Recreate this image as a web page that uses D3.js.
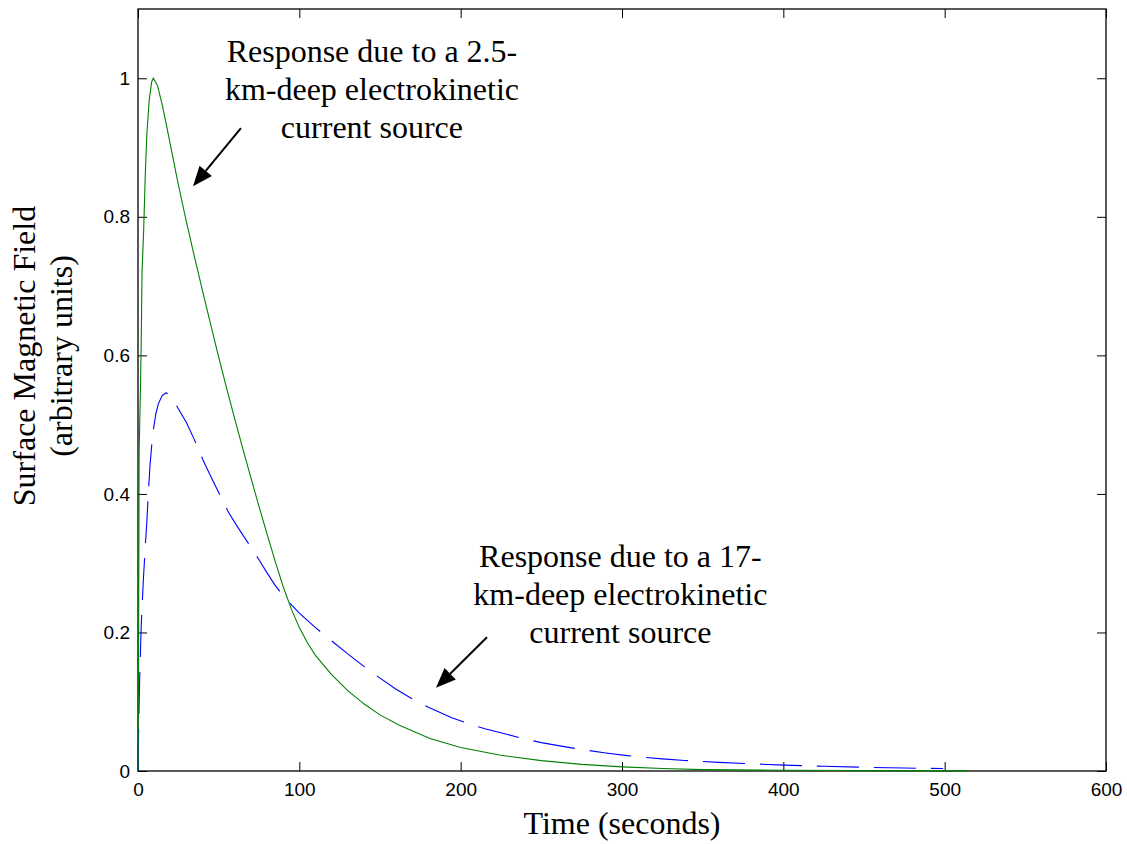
<!DOCTYPE html>
<html>
<head>
<meta charset="utf-8">
<script src="https://cdn.jsdelivr.net/npm/d3@7"></script>
<style>
  body { margin: 0; background: #fff; }
  .tick text { font-family: "Liberation Sans", Arial, sans-serif; font-size: 19px; fill: #000; }
  .tick line { stroke: #000; }
  .title { font-family: "Liberation Serif", "Times New Roman", serif; font-size: 32px; fill: #000; }
</style>
</head>
<body>
<div id="chart"></div>
<script>
// green solid: 2.5 km deep source
var greenT = [0, 0.4, 0.7, 1.5, 2, 2.5, 3.5, 4.5, 5.5, 7, 8.5, 9.5, 12, 15, 18, 21, 24, 27, 30, 35, 40, 45, 49,
              55, 60, 65, 70, 75, 80, 85, 90, 95, 100, 105, 110, 120, 130, 140, 150, 162, 181, 200, 224, 250,
              275, 300, 325, 350, 400, 450, 514];
var greenV = [0, 0.2, 0.46, 0.55, 0.62, 0.72, 0.78, 0.86, 0.92, 0.97, 0.995, 1.0, 0.99, 0.962, 0.928, 0.893, 0.858, 0.825,
              0.793, 0.742, 0.693, 0.645, 0.607, 0.552, 0.508, 0.465, 0.423, 0.382, 0.342, 0.303, 0.266, 0.234, 0.207,
              0.185, 0.167, 0.139, 0.116, 0.097, 0.081, 0.066, 0.047, 0.034, 0.023, 0.015, 0.0095, 0.006, 0.0035, 0.002,
              0.001, 0.0005, 0.0002];

// blue dashed: 17 km deep source
var blueT = [0, 0.4, 1, 2, 3.3, 4.4, 5.4, 6.4, 7.4, 8.5, 9.5, 11, 12.6, 15, 17.4, 20, 22, 25, 30, 35, 40.5, 45, 50, 56, 61,
             68, 75, 80, 85, 91, 100, 110, 120, 130, 140, 150, 160, 170, 180, 194.5, 204, 215, 228.6, 238, 250, 266, 275,
             290, 302, 311, 325, 339, 360, 380, 400, 425, 450, 475, 499];
var blueV = [0, 0.06, 0.13, 0.21, 0.275, 0.32, 0.357, 0.40, 0.44, 0.47, 0.492, 0.515, 0.53, 0.542, 0.546, 0.542, 0.535, 0.523,
             0.503, 0.478, 0.448, 0.426, 0.402, 0.374, 0.355, 0.33, 0.305, 0.286, 0.268, 0.25, 0.228, 0.207, 0.188, 0.169,
             0.151, 0.134, 0.118, 0.104, 0.092, 0.077, 0.069, 0.061, 0.053, 0.047, 0.041, 0.0345, 0.031, 0.026, 0.0225,
             0.0203, 0.0175, 0.0152, 0.0125, 0.0105, 0.0085, 0.0068, 0.0054, 0.0043, 0.0035];

var xTicks = [0, 100, 200, 300, 400, 500, 600];
var yTicks = [0, 0.2, 0.4, 0.6, 0.8, 1];
var yTickLabels = ["0", "0.2", "0.4", "0.6", "0.8", "1"];

var note1 = ["Response due to a 2.5-", "km-deep electrokinetic", "current source"];
var note2 = ["Response due to a 17-", "km-deep electrokinetic", "current source"];

var W = 1127, H = 844;
var plot = { left: 138, right: 1106, top: 9, bottom: 771 };

var svg = d3.select("#chart").append("svg")
    .attr("width", W)
    .attr("height", H);

var x = d3.scaleLinear().domain([0, 600]).range([plot.left, plot.right]);
var y = d3.scaleLinear().domain([0, 1.1]).range([plot.bottom, plot.top]);

function noDomain(g) { g.select(".domain").remove(); }

// axes with inward ticks (box style)
svg.append("g")
    .attr("transform", "translate(0," + plot.bottom + ")")
    .call(d3.axisBottom(x).tickValues(xTicks).tickSizeInner(-9).tickSizeOuter(0).tickPadding(12))
    .call(noDomain);

svg.append("g")
    .attr("transform", "translate(0," + plot.top + ")")
    .call(d3.axisTop(x).tickValues(xTicks).tickSizeInner(-9).tickSizeOuter(0).tickFormat(""))
    .call(noDomain);

svg.append("g")
    .attr("transform", "translate(" + plot.left + ",0)")
    .call(d3.axisLeft(y).tickValues(yTicks).tickSizeInner(-9).tickSizeOuter(0).tickPadding(8)
        .tickFormat(function(d, i) { return yTickLabels[i]; }))
    .call(noDomain);

svg.append("g")
    .attr("transform", "translate(" + plot.right + ",0)")
    .call(d3.axisRight(y).tickValues(yTicks).tickSizeInner(-9).tickSizeOuter(0).tickFormat(""))
    .call(noDomain);

svg.append("rect")
    .attr("x", plot.left)
    .attr("y", plot.top)
    .attr("width", plot.right - plot.left)
    .attr("height", plot.bottom - plot.top)
    .attr("fill", "none")
    .attr("stroke", "#000")
    .attr("stroke-width", 1.3);

var line = d3.line()
    .x(function(d) { return x(d[0]); })
    .y(function(d) { return y(d[1]); });

svg.append("path")
    .datum(blueT.map(function(t, i) { return [t, blueV[i]]; }))
    .attr("d", line)
    .attr("fill", "none")
    .attr("stroke", "#0000ff")
    .attr("stroke-width", 1.1)
    .attr("stroke-dasharray", "42,15");

svg.append("path")
    .datum(greenT.map(function(t, i) { return [t, greenV[i]]; }))
    .attr("d", line)
    .attr("fill", "none")
    .attr("stroke", "#008000")
    .attr("stroke-width", 1.1);

// axis titles
svg.append("text")
    .attr("class", "title")
    .attr("x", (plot.left + plot.right) / 2)
    .attr("y", 834)
    .attr("text-anchor", "middle")
    .text("Time (seconds)");

var yTitle = svg.append("text")
    .attr("class", "title")
    .attr("text-anchor", "middle")
    .attr("transform", "translate(35,356) rotate(-90)");
yTitle.append("tspan").attr("x", 0).attr("y", 0).text("Surface Magnetic Field");
yTitle.append("tspan").attr("x", 0).attr("y", 37).text("(arbitrary units)");

// annotations
function note(lines, cx, baseY) {
    svg.append("g").selectAll("text")
        .data(lines)
        .enter().append("text")
        .attr("class", "title")
        .attr("text-anchor", "middle")
        .attr("x", x(cx))
        .attr("y", function(d, i) { return baseY + i * 38; })
        .text(function(d) { return d; });
}
note(note1, 145, 62);
note(note2, 299, 567);

function arrow(t0, v0, t1, v1) {
    var x0 = x(t0), y0 = y(v0), x1 = x(t1), y1 = y(v1);
    var a = Math.atan2(y1 - y0, x1 - x0);
    var len = 20, half = 8;
    var bx = x1 - len * Math.cos(a), by = y1 - len * Math.sin(a);
    svg.append("line")
        .attr("x1", x0).attr("y1", y0)
        .attr("x2", bx).attr("y2", by)
        .attr("stroke", "#000")
        .attr("stroke-width", 2);
    svg.append("polygon")
        .attr("points", [
            [x1, y1],
            [bx + half * Math.sin(a), by - half * Math.cos(a)],
            [bx - half * Math.sin(a), by + half * Math.cos(a)]
        ].map(function(p) { return p.join(","); }).join(" "))
        .attr("fill", "#000");
}
arrow(63.8, 0.928, 34.1, 0.844);
arrow(216.3, 0.193, 184.7, 0.12);
</script>
</body>
</html>
